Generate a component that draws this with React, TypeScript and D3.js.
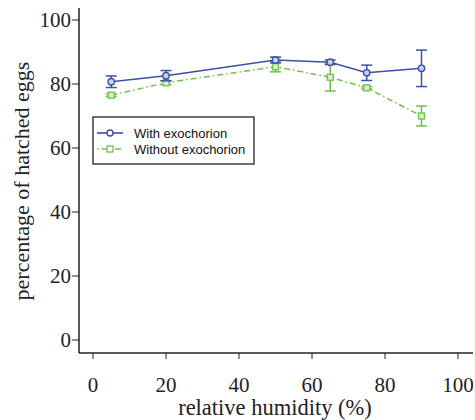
import React from "react";
import * as d3 from "d3";

const humidity = [5, 20, 50, 65, 75, 90];
const withExo = [80.7, 82.6, 87.5, 86.8, 83.5, 84.9];
const withExoErr = [1.8, 1.6, 0.9, 0.7, 2.4, 5.7];
const withoutExo = [76.5, 80.4, 85.4, 82.1, 78.8, 70.0];
const withoutExoErr = [0.4, 0.6, 1.6, 4.3, 0.4, 3.1];
const xTicks = [0, 20, 40, 60, 80, 100];
const yTicks = [0, 20, 40, 60, 80, 100];
const seriesNames = ["With exochorion", "Without exochorion"];

const BLUE = "#3a51a6";
const GREEN = "#6cc04a";
const SERIF = "'Liberation Serif', 'Times New Roman', serif";
const SANS = "'Liberation Sans', Arial, sans-serif";

export default function App() {
  const W = 475, H = 420;
  const x = d3.scaleLinear().domain([0, 100]).range([93, 458]);
  const y = d3.scaleLinear().domain([0, 100]).range([340, 20]);
  const axisX = 79, axisY = 353;

  const line = d3
    .line<number>()
    .x((_, i) => x(humidity[i]))
    .y((d) => y(d));

  const errBars = (vals: number[], errs: number[], color: string, key: string) =>
    vals.map((v, i) => {
      const cx = x(humidity[i]);
      const y1 = y(v + errs[i]);
      const y2 = y(v - errs[i]);
      return (
        <g key={key + i} stroke={color} strokeWidth={1.5}>
          <line x1={cx} x2={cx} y1={y1} y2={y2} />
          <line x1={cx - 5.5} x2={cx + 5.5} y1={y1} y2={y1} />
          <line x1={cx - 5.5} x2={cx + 5.5} y1={y2} y2={y2} />
        </g>
      );
    });

  const dash = "6,3,1.5,3";

  return (
    <svg width={W} height={H} style={{ position: "absolute", left: 0, top: 0, background: "#fff" }}>
      {/* axes */}
      <line x1={axisX} x2={axisX} y1={8} y2={axisY} stroke="#222" strokeWidth={1.5} />
      <line x1={axisX} x2={473} y1={axisY} y2={axisY} stroke="#222" strokeWidth={1.5} />
      {yTicks.map((t) => (
        <g key={"yt" + t}>
          <line x1={72} x2={axisX} y1={y(t)} y2={y(t)} stroke="#222" strokeWidth={1} />
          <text x={71} y={y(t)} dy="0.35em" textAnchor="end" fontFamily={SERIF} fontSize={21} fill="#222">
            {t}
          </text>
        </g>
      ))}
      {xTicks.map((t) => (
        <g key={"xt" + t}>
          <line x1={x(t)} x2={x(t)} y1={axisY} y2={axisY + 6} stroke="#222" strokeWidth={1} />
          <text x={x(t)} y={392} textAnchor="middle" fontFamily={SERIF} fontSize={21} fill="#222">
            {t}
          </text>
        </g>
      ))}
      <text x={275} y={415} textAnchor="middle" fontFamily={SERIF} fontSize={22.5} fill="#222">
        relative humidity (%)
      </text>
      <text
        transform={`translate(29,181) rotate(-90)`}
        textAnchor="middle"
        fontFamily={SERIF}
        fontSize={22}
        fill="#222"
      >
        percentage of hatched eggs
      </text>

      {/* without exochorion */}
      <path d={line(withoutExo) || ""} fill="none" stroke={GREEN} strokeWidth={1.5} strokeDasharray={dash} />
      {errBars(withoutExo, withoutExoErr, GREEN, "g")}
      {withoutExo.map((v, i) => (
        <rect key={"gs" + i} x={x(humidity[i]) - 3} y={y(v) - 3} width={6} height={6} fill="#d9f0cf" stroke={GREEN} strokeWidth={1.3} />
      ))}

      {/* with exochorion */}
      <path d={line(withExo) || ""} fill="none" stroke={BLUE} strokeWidth={1.6} />
      {errBars(withExo, withExoErr, BLUE, "b")}
      {withExo.map((v, i) => (
        <circle key={"bc" + i} cx={x(humidity[i])} cy={y(v)} r={3.2} fill="#c9d0ea" stroke={BLUE} strokeWidth={1.4} />
      ))}

      {/* legend */}
      <rect x={93} y={117} width={161} height={47} fill="#fff" stroke="#222" strokeWidth={1.3} />
      <line x1={97} x2={123} y1={133} y2={133} stroke={BLUE} strokeWidth={1.6} />
      <circle cx={110} cy={133} r={3} fill="#fff" stroke={BLUE} strokeWidth={1.4} />
      <text x={134} y={133} dy="0.35em" fontFamily={SANS} fontSize={13} fill="#111">
        {seriesNames[0]}
      </text>
      <line x1={97} x2={123} y1={149} y2={149} stroke={GREEN} strokeWidth={1.5} strokeDasharray="1.5,3,6,3" />
      <rect x={107} y={146} width={6} height={6} fill="#fff" stroke={GREEN} strokeWidth={1.3} />
      <text x={134} y={149} dy="0.35em" fontFamily={SANS} fontSize={13} fill="#111">
        {seriesNames[1]}
      </text>
    </svg>
  );
}
